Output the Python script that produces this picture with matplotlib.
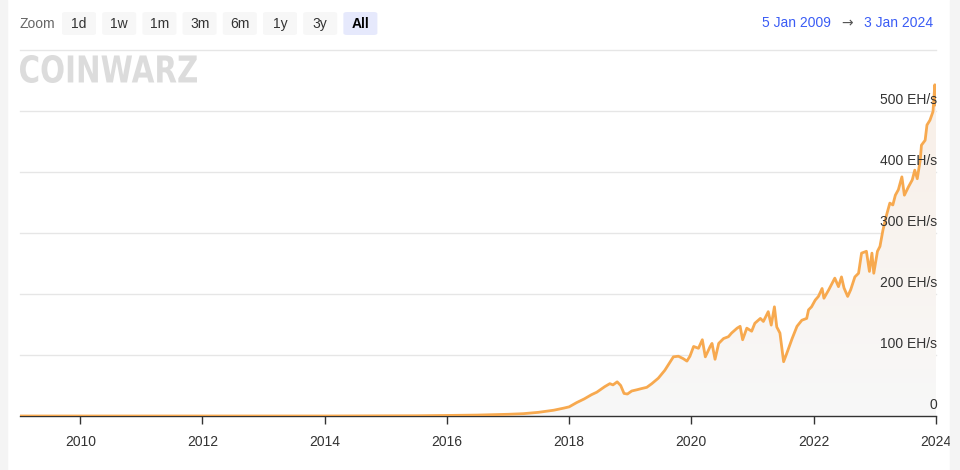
import matplotlib

matplotlib.use("Agg")
import matplotlib.dates as mdates
import matplotlib.pyplot as plt
import numpy as np
import pandas as pd
from matplotlib.font_manager import FontProperties
from matplotlib.patches import FancyBboxPatch, PathPatch, Rectangle
from matplotlib.textpath import TextPath
from matplotlib.transforms import Affine2D

plt.rcParams["font.family"] = ["Liberation Sans", "DejaVu Sans"]

# network hashrate, EH/s
DATES = [
    "2009-01-05", "2010-01-01", "2011-01-01", "2012-01-01", "2013-01-01",
    "2014-01-01", "2014-07-01", "2015-01-01", "2015-07-01", "2016-01-01",
    "2016-07-01", "2017-01-01", "2017-04-01", "2017-07-01", "2017-10-01",
    "2017-12-01", "2018-01-01", "2018-02-15", "2018-04-01", "2018-05-15",
    "2018-06-15", "2018-08-01", "2018-09-01", "2018-09-20", "2018-10-15",
    "2018-11-05", "2018-11-25", "2018-12-15", "2019-01-10", "2019-02-10",
    "2019-03-10", "2019-04-10", "2019-05-10", "2019-06-18", "2019-07-27",
    "2019-09-16", "2019-10-16", "2019-11-14", "2019-12-06", "2019-12-24",
    "2020-01-15", "2020-02-13", "2020-03-07", "2020-03-25", "2020-04-23",
    "2020-05-04", "2020-05-22", "2020-06-13", "2020-07-12", "2020-08-10",
    "2020-08-29", "2020-10-01", "2020-10-19", "2020-11-03", "2020-11-28",
    "2020-12-27", "2021-01-15", "2021-02-17", "2021-03-07", "2021-04-05",
    "2021-04-23", "2021-05-12", "2021-05-26", "2021-06-14", "2021-07-06",
    "2021-07-24", "2021-08-26", "2021-09-24", "2021-10-23", "2021-11-21",
    "2021-12-02", "2021-12-20", "2022-01-11", "2022-01-30", "2022-02-21",
    "2022-03-04", "2022-04-02", "2022-05-08", "2022-05-30", "2022-06-17",
    "2022-07-02", "2022-07-24", "2022-08-11", "2022-09-05", "2022-09-27",
    "2022-10-15", "2022-11-13", "2022-12-01", "2022-12-16", "2022-12-27",
    "2023-01-18", "2023-02-02", "2023-02-20", "2023-03-11", "2023-04-02",
    "2023-04-20", "2023-05-05", "2023-05-23", "2023-06-13", "2023-06-28",
    "2023-07-23", "2023-08-14", "2023-08-29", "2023-09-13", "2023-10-01",
    "2023-10-08", "2023-10-30", "2023-11-10", "2023-11-28", "2023-12-16",
    "2023-12-27", "2024-01-03",
]
HASHRATE = [
    0, 0, 0, 0.01, 0.02,
    0.01, 0.15, 0.3, 0.4, 0.9,
    1.5, 2.8, 3.8, 6, 9.5,
    13, 15, 22, 28, 35,
    39, 48, 53, 51, 56,
    50, 37, 36, 41, 43,
    45, 47, 53, 62, 75,
    97, 98, 94, 90, 98,
    114, 111, 125, 97, 114,
    119, 93, 119, 127, 130,
    136, 144, 147, 125, 144,
    139, 152, 160, 155, 171,
    149, 179, 146, 136, 89,
    102, 127, 147, 157, 160,
    174, 179, 190, 196, 209,
    193, 207, 226, 212, 228,
    210, 196, 207, 228, 234,
    267, 270, 237, 267, 234,
    270, 278, 305, 327, 349,
    346, 362, 371, 392, 362,
    376, 387, 403, 389, 420,
    444, 452, 477, 485, 499,
    543, 510,
]
Y_TICKS = [0, 100, 200, 300, 400, 500]
Y_LABELS = ["0", "100 EH/s", "200 EH/s", "300 EH/s", "400 EH/s", "500 EH/s"]
ZOOM_BUTTONS = ["1d", "1w", "1m", "3m", "6m", "1y", "3y", "All"]
START_LABEL = "5 Jan 2009"
END_LABEL = "3 Jan 2024"
WATERMARK = "COINWARZ"

W, H = 960, 470
LINE_COLOR = "#f7a94f"
TEXT_COLOR = "#333333"
BLUE = "#3a5cf5"


def fx(px):
    return px / W


def fy(py):
    return 1 - py / H


def draw_header(fig):
    # grey strips on both sides of the card
    fig.patches.append(Rectangle((0, 0), fx(7), 1, transform=fig.transFigure,
                                 color="#f4f4f4", zorder=0))
    fig.patches.append(Rectangle((fx(950), 0), fx(10), 1, transform=fig.transFigure,
                                 color="#f4f4f4", zorder=0))

    fig.text(fx(20), fy(24), "Zoom", color="#666666", fontsize=10, va="center")
    for i, label in enumerate(ZOOM_BUTTONS):
        left = 62 + i * 40.2
        selected = label == "All"
        box = FancyBboxPatch((fx(left), fy(35)), fx(34), fy(12) - fy(35),
                             boxstyle="round,pad=0,rounding_size=0.004",
                             transform=fig.transFigure,
                             facecolor="#e6e9fc" if selected else "#f7f7f7",
                             edgecolor="none")
        fig.patches.append(box)
        fig.text(fx(left + 17), fy(24), label, color="#000000" if selected else TEXT_COLOR,
                 fontsize=10, ha="center", va="center",
                 fontweight="bold" if selected else "normal")

    fig.text(fx(933), fy(23), END_LABEL, color=BLUE, fontsize=10, ha="right", va="center")
    fig.text(fx(847), fy(23), "\u2192", color="#555555", fontsize=10, ha="center",
             va="center", family="DejaVu Sans")
    fig.text(fx(831), fy(23), START_LABEL, color=BLUE, fontsize=10, ha="right", va="center")

    # watermark, stretched into its box (pixels 20..197 wide, 55..83 high)
    path = TextPath((0, 0), WATERMARK, size=10,
                    prop=FontProperties(family="DejaVu Sans", weight="bold"))
    ext = path.get_extents()
    tr = (Affine2D().translate(-ext.x0, -ext.y0)
          .scale(177 / ext.width, 28 / ext.height)
          .translate(20, H - 83))
    fig.patches.append(PathPatch(path, transform=tr, facecolor="#dcdcdc",
                                 edgecolor="none"))


def main():
    dates = pd.to_datetime(DATES)
    values = np.array(HASHRATE, dtype=float)

    fig = plt.figure(figsize=(W / 100, H / 100), dpi=100)
    ax = fig.add_axes([fx(20), fy(416), fx(936) - fx(20), fy(50) - fy(416)])

    # gradient fill under the line
    poly = ax.fill_between(dates, values, 0, color="none", lw=0)
    grad = np.linspace(0, 1, 256).reshape(-1, 1)
    top = np.array([0.976, 0.937, 0.905])
    bottom = np.array([0.972, 0.972, 0.972])
    img = top * grad[..., None] + bottom * (1 - grad[..., None])
    x0, x1 = mdates.date2num(dates[0]), mdates.date2num(dates[-1])
    im = ax.imshow(img, extent=[x0, x1, 0, 560], origin="lower", aspect="auto", zorder=1)
    im.set_clip_path(poly.get_paths()[0], transform=ax.transData)
    ax.set_xlim(dates[0], dates[-1])
    ax.set_ylim(0, 600)

    ax.plot(dates, values, color=LINE_COLOR, lw=2, zorder=3, solid_joinstyle="round")

    for y in Y_TICKS[1:] + [600]:
        ax.axhline(y, color="#e6e6e6", lw=1, zorder=0, clip_on=False)
    for y, label in zip(Y_TICKS, Y_LABELS):
        ax.annotate(label, xy=(1, y), xycoords=ax.get_yaxis_transform(),
                    xytext=(1, 3), textcoords="offset points",
                    ha="right", va="bottom", fontsize=10, color=TEXT_COLOR, zorder=5)

    for side in ["top", "right", "left"]:
        ax.spines[side].set_visible(False)
    ax.spines["bottom"].set_color("#333333")
    ax.spines["bottom"].set_linewidth(1)
    ax.set_yticks([])
    ax.xaxis.set_major_locator(mdates.YearLocator(2))
    ax.xaxis.set_major_formatter(mdates.DateFormatter("%Y"))
    ax.tick_params(axis="x", length=6, width=1, color="#333333", labelsize=10,
                   labelcolor=TEXT_COLOR, pad=8)
    ax.patch.set_alpha(0)

    draw_header(fig)
    fig.savefig("out.png", dpi=100)


if __name__ == "__main__":
    main()
